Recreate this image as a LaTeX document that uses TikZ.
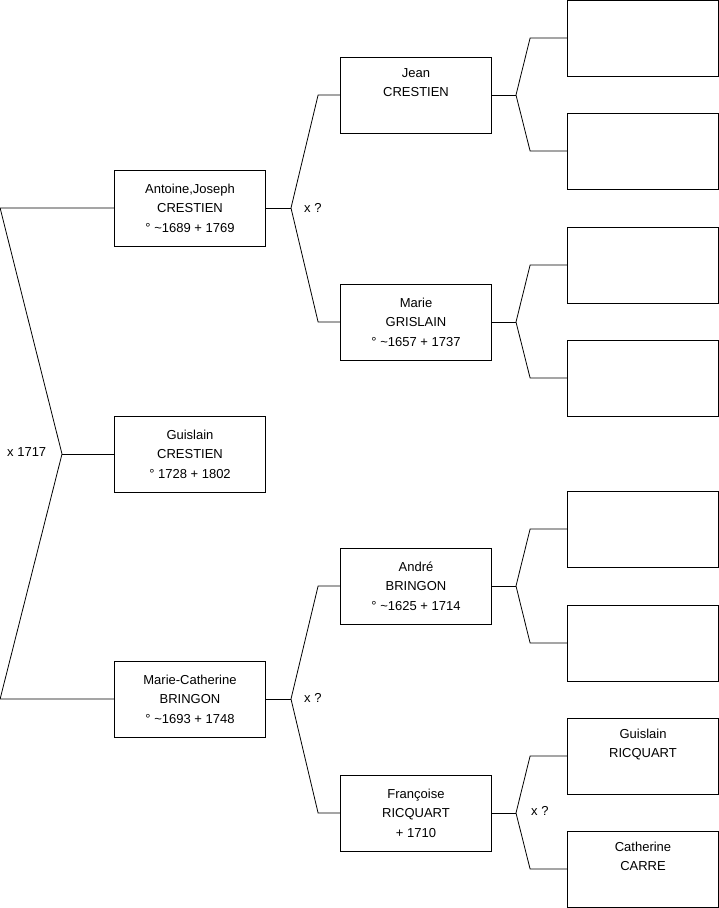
\documentclass[tikz,border=0pt]{standalone}
\usepackage{fontspec}
\setmainfont{Liberation Sans}
\usepackage{tikz}
\usetikzlibrary{positioning,calc}

\begin{document}
\begin{tikzpicture}[x=1pt,y=-1pt,
  pers/.style={draw,line width=0.8pt,minimum width=151pt,minimum height=76pt,
               inner sep=0pt,align=center,font=\fontsize{13}{19.5}\selectfont},
  lnk/.style={line width=0.8pt},
  mar/.style={font=\fontsize{13}{15}\selectfont,inner sep=0pt}]
\useasboundingbox (0,0) rectangle (719,908);

% generation 1
\node[pers] (guis) at (190,454) {Guislain\\CRESTIEN\\° 1728 + 1802};

% generation 2
\node[pers] (anto) at (190,208) {Antoine,Joseph\\CRESTIEN\\° \textasciitilde1689 + 1769};
\node[pers] (mcat) at (190,699) {Marie-Catherine\\BRINGON\\° \textasciitilde1693 + 1748};

% generation 3
\node[pers] (jean) at (416,95)  {Jean\\CRESTIEN\\\strut};
\node[pers] (mari) at (416,322) {Marie\\GRISLAIN\\° \textasciitilde1657 + 1737};
\node[pers] (andr) at (416,586) {André\\BRINGON\\° \textasciitilde1625 + 1714};
\node[pers] (fran) at (416,813) {Françoise\\RICQUART\\+ 1710};

% generation 4
\node[pers] (e1) at (643,38)  {};
\node[pers] (e2) at (643,151) {};
\node[pers] (e3) at (643,265) {};
\node[pers] (e4) at (643,378) {};
\node[pers] (e5) at (643,529) {};
\node[pers] (e6) at (643,643) {};
\node[pers] (gric) at (643,756) {Guislain\\RICQUART\\\strut};
\node[pers] (ccar) at (643,869) {Catherine\\CARRE\\\strut};

% forks
\coordinate (f0) at (62,454);
\coordinate (f1) at (291,208);
\coordinate (f2) at (291,699);
\coordinate (f3) at (516,95);
\coordinate (f4) at (516,322);
\coordinate (f5) at (516,586);
\coordinate (f6) at (516,813);

\draw[lnk] (guis.west) -- (f0);
\draw[lnk] (anto.west) -- ([xshift=-114pt]anto.west) -- (f0)
  -- ([xshift=-114pt]mcat.west) -- (mcat.west);

\draw[lnk] (anto.east) -- (f1);
\draw[lnk] (jean.west) -- ++(-22,0) -- (f1) -- ([xshift=-22pt]mari.west) -- (mari.west);
\draw[lnk] (mcat.east) -- (f2);
\draw[lnk] (andr.west) -- ++(-22,0) -- (f2) -- ([xshift=-22pt]fran.west) -- (fran.west);

\draw[lnk] (jean.east) -- (f3);
\draw[lnk] (e1.west) -- ++(-37,0) -- (f3) -- ([xshift=-37pt]e2.west) -- (e2.west);
\draw[lnk] (mari.east) -- (f4);
\draw[lnk] (e3.west) -- ++(-37,0) -- (f4) -- ([xshift=-37pt]e4.west) -- (e4.west);
\draw[lnk] (andr.east) -- (f5);
\draw[lnk] (e5.west) -- ++(-37,0) -- (f5) -- ([xshift=-37pt]e6.west) -- (e6.west);
\draw[lnk] (fran.east) -- (f6);
\draw[lnk] (gric.west) -- ++(-37,0) -- (f6) -- ([xshift=-37pt]ccar.west) -- (ccar.west);

% marriages
\node[mar,anchor=west] (m0) at (7,452) {x 1717};
\node[mar,anchor=west] (m1) at (304,208) {x ?};
\node[mar,anchor=west] (m2) at (304,698) {x ?};
\node[mar,anchor=west] (m3) at (531,811) {x ?};
\end{tikzpicture}
\end{document}
